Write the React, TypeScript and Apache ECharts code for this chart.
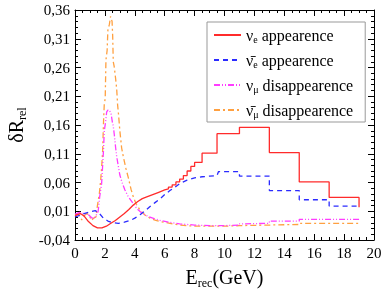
import React, { useEffect, useRef } from "react";
import * as echarts from "echarts";

// ν_e appearance (red, solid)
const nueApp: [number, number][] = [
  [0, 0.002], [0.15, 0.004], [0.35, 0.006], [0.6, 0.002], [0.9, -0.008], [1.2, -0.015],
  [1.5, -0.019], [1.8, -0.019], [2.1, -0.016], [2.4, -0.011], [2.7, -0.006], [3.0, 0.0],
  [3.3, 0.006], [3.6, 0.013], [3.9, 0.021], [4.2, 0.027], [4.5, 0.032], [4.8, 0.035],
  [5.2, 0.039], [5.6, 0.043], [6.0, 0.047], [6.25, 0.049], [6.25, 0.052], [6.5, 0.052],
  [6.5, 0.056], [6.75, 0.056], [6.75, 0.061], [7.0, 0.061], [7.0, 0.066], [7.25, 0.066],
  [7.25, 0.072], [7.5, 0.072], [7.5, 0.08], [7.75, 0.08], [7.75, 0.088], [8.0, 0.088],
  [8.0, 0.095], [8.5, 0.095], [8.5, 0.111], [9.5, 0.111], [9.5, 0.145], [11, 0.145],
  [11, 0.156], [13, 0.156], [13, 0.112], [15, 0.112], [15, 0.061], [17, 0.061],
  [17, 0.034], [19, 0.034], [19, 0.017],
];

// anti-ν_e appearance (blue, dashed)
const nuebarApp: [number, number][] = [
  [0, 0.0], [0.3, 0.003], [0.6, 0.006], [1.0, 0.009], [1.35, 0.011], [1.6, 0.007],
  [1.9, -0.002], [2.2, -0.007], [2.55, -0.01], [2.9, -0.011], [3.3, -0.009], [3.7, -0.006],
  [4.0, -0.002], [4.35, 0.004], [4.7, 0.011], [5.0, 0.018], [5.35, 0.025], [5.7, 0.032],
  [6.0, 0.039], [6.35, 0.046], [6.7, 0.052], [7.0, 0.058], [7.5, 0.064], [8.0, 0.068],
  [8.5, 0.07], [9.0, 0.071], [9.5, 0.072], [9.6, 0.079], [11, 0.079], [11, 0.071],
  [13, 0.071], [13, 0.046], [15, 0.046], [15, 0.03], [17, 0.03], [17, 0.019], [19, 0.019],
];

// ν_μ disappearance (magenta, dash-dot-dot)
const numuDis: [number, number][] = [
  [0, 0.005], [0.3, 0.008], [0.6, 0.006], [0.9, 0.004], [1.1, -0.001], [1.25, -0.003],
  [1.4, 0.002], [1.55, 0.01], [1.65, 0.035], [1.78, 0.058], [1.85, 0.09], [1.9, 0.113],
  [1.96, 0.15], [2.05, 0.166], [2.12, 0.183], [2.2, 0.186], [2.3, 0.186], [2.41, 0.18],
  [2.5, 0.165], [2.56, 0.158], [2.63, 0.143], [2.72, 0.12], [2.79, 0.105], [2.9, 0.088],
  [3.0, 0.073], [3.15, 0.06], [3.34, 0.047], [3.55, 0.036], [3.79, 0.027], [4.0, 0.019],
  [4.24, 0.012], [4.5, 0.006], [4.9, 0.001], [5.3, -0.003], [5.7, -0.006], [6.3, -0.009],
  [7.0, -0.012], [8.0, -0.014], [9.0, -0.015], [10.0, -0.015], [11.0, -0.014], [11.0, -0.012],
  [13.0, -0.011], [13.0, -0.007], [15.0, -0.007], [15.0, -0.004], [19.0, -0.004],
];

// anti-ν_μ disappearance (orange, dash-dot)
const numubarDis: [number, number][] = [
  [0, 0.003], [0.2, 0.005], [0.35, 0.001], [0.45, -0.005], [0.6, 0.002], [0.8, 0.006],
  [0.95, 0.003], [1.1, -0.006], [1.25, -0.002], [1.4, 0.0], [1.5, 0.02], [1.63, 0.041],
  [1.72, 0.065], [1.78, 0.085], [1.85, 0.115], [1.9, 0.16], [1.96, 0.198], [2.02, 0.205],
  [2.07, 0.273], [2.15, 0.29], [2.2, 0.325], [2.3, 0.335], [2.38, 0.349], [2.48, 0.34],
  [2.52, 0.315], [2.56, 0.27], [2.62, 0.262], [2.72, 0.24], [2.79, 0.222], [2.85, 0.195],
  [2.92, 0.176], [3.0, 0.15], [3.12, 0.12], [3.23, 0.105], [3.4, 0.085], [3.57, 0.068],
  [3.75, 0.048], [3.9, 0.035], [4.1, 0.022], [4.35, 0.012], [4.7, 0.003], [5.02, -0.002],
  [5.4, -0.006], [5.7, -0.008], [6.35, -0.011], [7.0, -0.014], [8.0, -0.016], [9.0, -0.016],
  [10.0, -0.016], [11.0, -0.015], [11.0, -0.014], [13.0, -0.014], [13.0, -0.013],
  [15.0, -0.013], [15.0, -0.011], [19.0, -0.011],
];

const seriesNames = ["nue", "nuebar", "numu", "numubar"];
const legendLabels: Record<string, string> = {
  nue: "{a|ν}{s|e}{a| appearence}",
  nuebar: "{a|ν̄}{s|e}{a| appearence}",
  numu: "{a|ν}{s|μ}{a| disappearence}",
  numubar: "{a|ν̄}{s|μ}{a| disappearence}",
};

const X_MIN = 0, X_MAX = 20, X_STEP = 2;
const Y_MIN = -0.04, Y_MAX = 0.36, Y_STEP = 0.05;

const FONT = "Liberation Serif";

export default function App() {
  const ref = useRef<HTMLDivElement>(null);
  useEffect(() => {
    const chart = echarts.init(ref.current!, null, { renderer: "svg" });
    const axisCommon = {
      axisLine: { show: true, onZero: false, lineStyle: { color: "#000", width: 1 } },
      axisTick: { show: true, inside: true, length: 6, lineStyle: { color: "#000", width: 1 } },
      minorTick: { show: true, length: 3, lineStyle: { color: "#000", width: 1 } },
      splitLine: { show: false },
      minorSplitLine: { show: false },
    };
    const labelStyle = { color: "#000", fontFamily: FONT, fontSize: 15 };
    const nameRich = {
      a: { fontFamily: FONT, fontSize: 20, color: "#000", lineHeight: 22 },
      s: { fontFamily: FONT, fontSize: 12, color: "#000", lineHeight: 12, padding: [12, 0, 0, 0] },
    };
    const mk = (name: string, data: [number, number][], color: string, type: any, z: number) => ({
      name,
      type: "line",
      data,
      symbol: "none",
      showSymbol: false,
      z,
      itemStyle: { color },
      lineStyle: { color, width: 1.3, type },
    });
    chart.setOption({
      animation: false,
      grid: { left: 75, right: 9, top: 10, bottom: 51, outerBoundsMode: "none", containLabel: false },
      legend: {
        orient: "vertical",
        left: 207,
        top: 22,
        padding: [4, 12, 3, 6],
        itemGap: 7,
        itemWidth: 27,
        itemHeight: 14,
        borderColor: "#999",
        borderWidth: 1,
        data: seriesNames,
        formatter: (n: string) => legendLabels[n],
        itemStyle: { color: "rgba(0,0,0,0)", borderColor: "rgba(0,0,0,0)", borderWidth: 0 },
        textStyle: {
          color: "#000",
          fontFamily: FONT,
          rich: {
            a: { fontFamily: FONT, fontSize: 16, color: "#000", lineHeight: 18 },
            s: { fontFamily: FONT, fontSize: 10, color: "#000", lineHeight: 10, padding: [8, 0, 0, 0] },
          },
        },
      },
      xAxis: [
        {
          type: "value", min: X_MIN, max: X_MAX, interval: X_STEP, position: "bottom",
          ...axisCommon,
          minorTick: { ...axisCommon.minorTick, splitNumber: 4 },
          axisLabel: { ...labelStyle, margin: 5, showMinLabel: true, showMaxLabel: true },
          name: "{a|E}{s|rec}{a|(GeV)}",
          nameLocation: "middle",
          nameGap: 25,
          nameTextStyle: { rich: nameRich },
        },
        {
          type: "value", min: X_MIN, max: X_MAX, interval: X_STEP, position: "top",
          ...axisCommon,
          minorTick: { ...axisCommon.minorTick, splitNumber: 4 },
          axisLabel: { show: false },
        },
      ],
      yAxis: [
        {
          type: "value", min: Y_MIN, max: Y_MAX, interval: Y_STEP, position: "left",
          ...axisCommon,
          minorTick: { ...axisCommon.minorTick, splitNumber: 5 },
          axisLabel: {
            ...labelStyle, margin: 5, showMinLabel: true, showMaxLabel: true,
            formatter: (v: number) => v.toFixed(2).replace(".", ","),
          },
          name: "{a|δR}{s|rel}",
          nameLocation: "middle",
          nameGap: 48,
          nameTextStyle: { rich: nameRich },
        },
        {
          type: "value", min: Y_MIN, max: Y_MAX, interval: Y_STEP, position: "right",
          ...axisCommon,
          minorTick: { ...axisCommon.minorTick, splitNumber: 5 },
          axisLabel: { show: false },
        },
      ],
      series: [
        mk("nue", nueApp, "#ff2b2b", "solid", 4),
        mk("nuebar", nuebarApp, "#2b2bff", [5, 4], 3),
        mk("numu", numuDis, "#ff3cff", [6, 2, 1, 2, 1, 2], 2),
        mk("numubar", numubarDis, "#ffa040", [6, 3, 2, 3], 1),
      ],
    });
    return () => chart.dispose();
  }, []);
  return <div ref={ref} style={{ position: "fixed", left: 0, top: 0, width: 383, height: 291 }} />;
}
